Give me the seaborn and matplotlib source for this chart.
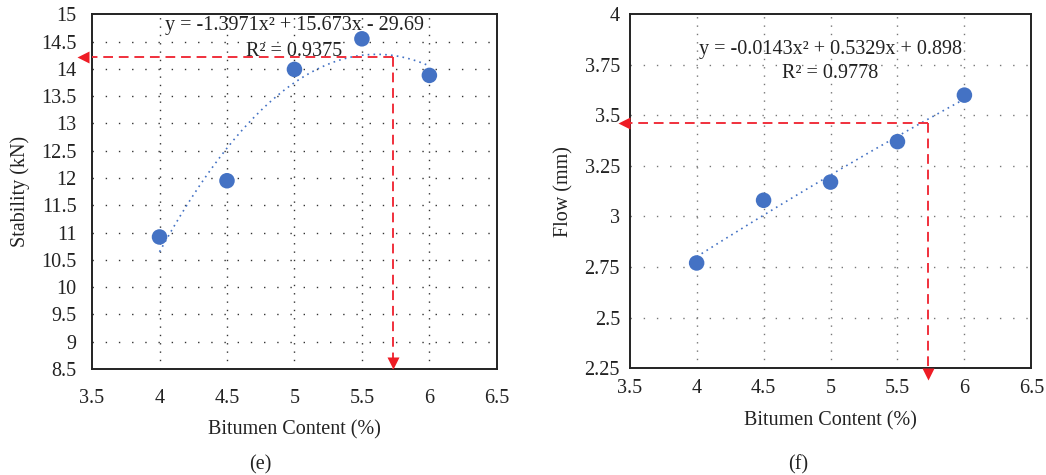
import numpy as np
import pandas as pd
import matplotlib
matplotlib.use("Agg")
import matplotlib.pyplot as plt
import seaborn as sns

# Bitumen content (%) and measured Marshall properties
bitumen = [4.0, 4.5, 5.0, 5.5, 6.0]
stability = [10.92, 11.95, 13.99, 14.55, 13.88]
flow = [2.77, 3.08, 3.17, 3.37, 3.60]

# Polynomial trend coefficients (a, b, c for a*x^2 + b*x + c)
stab_coef = [-1.3971, 15.673, -29.69]
flow_coef = [-0.0143, 0.5329, 0.898]
stab_eq = "y = -1.3971x\u00b2 + 15.673x - 29.69"
stab_r2 = "R\u00b2 = 0.9375"
flow_eq = "y = -0.0143x\u00b2 + 0.5329x + 0.898"
flow_r2 = "R\u00b2 = 0.9778"

# Optimum bitumen content and the corresponding property readings
obc = 5.73
stab_at_obc = 14.22
flow_at_obc = 3.46

x_ticks = [3.5, 4, 4.5, 5, 5.5, 6, 6.5]
stab_ticks = [8.5, 9, 9.5, 10, 10.5, 11, 11.5, 12, 12.5, 13, 13.5, 14, 14.5, 15]
flow_ticks = [2.25, 2.5, 2.75, 3, 3.25, 3.5, 3.75, 4]
flow_tick_labels = ["2.25", "2.5", "2.75", "3", "3.25", "3.5", "3.75", "4"]

sns.set_theme(style="white")
plt.rcParams["font.family"] = ["Liberation Serif", "DejaVu Serif"]

BLUE = "#4472C4"
RED = "#F0303C"
TXT = "#222222"
FS = 14.5

fig = plt.figure(figsize=(10.46, 4.75), dpi=100)
ax1 = fig.add_axes([0.088, 0.223, 0.387, 0.747])
ax2 = fig.add_axes([0.602, 0.225, 0.384, 0.745])


def style_axes(ax, yticks, ylabels, ylim, grid_color):
    ax.set_xlim(3.5, 6.5)
    ax.set_ylim(*ylim)
    ax.set_xticks(x_ticks)
    ax.set_xticklabels([f"{v:g}" for v in x_ticks])
    ax.set_yticks(yticks)
    ax.set_yticklabels(ylabels)
    ax.tick_params(axis="both", length=0, labelsize=FS, colors=TXT)
    for s in ax.spines.values():
        s.set_visible(True)
        s.set_color("#222222")
        s.set_linewidth(1.4)
    # dotted grid: horizontal at every tick, vertical at interior data ticks
    for y in yticks[1:-1]:
        ax.axhline(y, color=grid_color, lw=1.0, ls=(0, (1, 8.5)), zorder=0)
    for x in x_ticks[1:-1]:
        ax.axvline(x, color=grid_color, lw=1.0, ls=(0, (1, 5.0)), zorder=0)
    ax.set_xlabel("Bitumen Content (%)", fontsize=FS, color=TXT)


def draw_panel(ax, y, coef, eq, r2, y_obc, tri_y, tri_x, eq_pos, r2_pos):
    xs = np.linspace(min(bitumen), max(bitumen), 200)
    ys = np.polyval(coef, xs)
    trend = pd.DataFrame({"x": xs, "y": ys})
    sns.lineplot(data=trend, x="x", y="y", ax=ax, color=BLUE, lw=1.2,
                 linestyle=(0, (1, 2.5)), zorder=2)
    pts = pd.DataFrame({"x": bitumen, "y": y})
    sns.scatterplot(data=pts, x="x", y="y", ax=ax, color=BLUE, s=125,
                    edgecolor="none", zorder=4)
    ax.text(*eq_pos, eq, ha="center", va="center", fontsize=FS, color=TXT,
            transform=ax.transData, zorder=5)
    ax.text(*r2_pos, r2, ha="center", va="center", fontsize=FS, color=TXT,
            transform=ax.transData, zorder=5)
    # optimum content guide lines with arrow heads
    ax.plot([obc, 3.5], [y_obc, y_obc], color=RED, lw=1.4, ls=(0, (5, 3)),
            clip_on=False, zorder=3)
    ax.plot([obc, obc], [y_obc, ax.get_ylim()[0]], color=RED, lw=1.4,
            ls=(0, (5, 3)), clip_on=False, zorder=3)
    ax.plot([tri_x], [y_obc], marker="<", ms=8, color="#EE1C25", mec="none",
            clip_on=False, zorder=6)
    ax.plot([obc], [tri_y], marker="v", ms=8, color="#EE1C25", mec="none",
            clip_on=False, zorder=6)


style_axes(ax1, stab_ticks, [f"{v:g}" for v in stab_ticks], (8.5, 15), "#333333")
style_axes(ax2, flow_ticks, flow_tick_labels, (2.25, 4), "#777777")

draw_panel(ax1, stability, stab_coef, stab_eq, stab_r2, stab_at_obc,
           tri_y=8.61, tri_x=3.43, eq_pos=(5.0, 14.8), r2_pos=(5.0, 14.32))
draw_panel(ax2, flow, flow_coef, flow_eq, flow_r2, flow_at_obc,
           tri_y=2.22, tri_x=3.46, eq_pos=(5.0, 3.825), r2_pos=(5.0, 3.705))

ax1.tick_params(axis="y", pad=11)
ax2.tick_params(axis="y", pad=7)
ax1.tick_params(axis="x", pad=14)
ax2.tick_params(axis="x", pad=8)
ax1.set_ylabel("Stability (kN)", fontsize=FS, color=TXT, labelpad=8)
ax2.set_ylabel("Flow (mm)", fontsize=FS, color=TXT, labelpad=8)
ax1.xaxis.labelpad = 9
ax2.xaxis.labelpad = 9

fig.text(0.249, 0.022, "(e)", ha="center", va="center", fontsize=FS, color=TXT)
fig.text(0.763, 0.022, "(f)", ha="center", va="center", fontsize=FS, color=TXT)

fig.savefig("out.png", dpi=100, facecolor="white")
